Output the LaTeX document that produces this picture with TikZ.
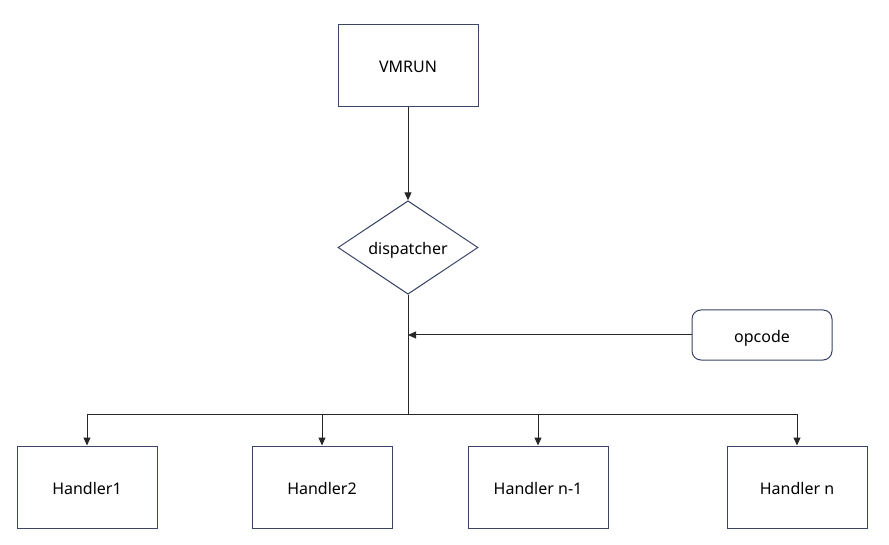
\documentclass[tikz,border=0pt]{standalone}
\usepackage{fontspec}
\setmainfont{Noto Sans}
\usetikzlibrary{shapes.geometric,arrows.meta}

\definecolor{boxline}{HTML}{3A4466}
\definecolor{wireline}{HTML}{262626}

\begin{document}
\begin{tikzpicture}[x=1pt,y=-1pt,
	txt/.style={font=\fontsize{16}{19}\selectfont, text height=14pt, text depth=0pt},
	box/.style={txt, draw=boxline, line width=1pt, minimum width=140pt, minimum height=82pt},
	decision/.style={txt, draw=boxline, line width=1pt, diamond, inner sep=0pt, minimum width=140pt, minimum height=93pt},
	roundbox/.style={txt, draw=boxline, line width=1pt, rounded corners=9pt, minimum width=140pt, minimum height=50pt},
	wire/.style={draw=wireline, line width=1pt, -{Triangle[length=8pt,width=7pt]}}]
	  \useasboundingbox (0,0) rectangle (889,545);
	  \fill[white] (0,0) rectangle (889,545);

	  \node[box] (vmrun) at (408,66) {VMRUN};
	  \node[decision] (disp) at (408,247.5) {dispatcher};
	  \node[roundbox] (opc) at (762,335) {opcode};

	  \node[box] (h1) at (87,487) {Handler1};
	  \node[box] (h2) at (322,487) {Handler2};
	  \node[box] (hm) at (538,487) {Handler n-1};
	  \node[box] (hn) at (797,487) {Handler n};

	  \coordinate (join) at (opc.west -| disp.south);
	  \coordinate (bus) at (408,414);

	  \draw[wire] (vmrun.south) -- (disp.north);
	  \draw[draw=wireline, line width=1pt] (disp.south) -- (bus);
	  \draw[wire] (opc.west) -- (join);
	  % branches to the handlers
	  \draw[wire] (bus) -| (h1.north);
	  \draw[wire] (bus) -| (h2.north);
	  \draw[wire] (bus) -| (hm.north);
	  \draw[wire] (bus) -| (hn.north);
	\end{tikzpicture}
\end{document}
